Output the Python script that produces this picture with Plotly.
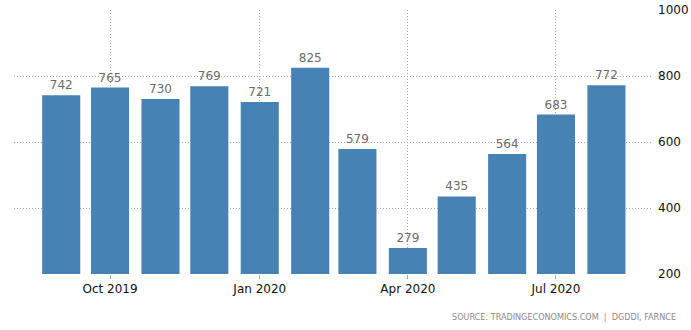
import plotly.graph_objects as go

# Monthly values, Sep 2019 - Aug 2020
months = ["2019-09-01", "2019-10-01", "2019-11-01", "2019-12-01", "2020-01-01",
          "2020-02-01", "2020-03-01", "2020-04-01", "2020-05-01", "2020-06-01",
          "2020-07-01", "2020-08-01"]
values = [742, 765, 730, 769, 721, 825, 579, 279, 435, 564, 683, 772]

tick_dates = ["2019-10-01", "2020-01-01", "2020-04-01", "2020-07-01"]
tick_labels = ["Oct 2019", "Jan 2020", "Apr 2020", "Jul 2020"]
y_ticks = [200, 400, 600, 800, 1000]

DAY_MS = 86400000
FONT = "DejaVu Sans"
GRID = "#a8a8a8"

fig = go.Figure(go.Bar(
    x=months,
    y=values,
    width=[23.4 * DAY_MS] * len(values),
    marker=dict(color="#4682B4", line=dict(width=0)),
    text=[str(v) for v in values],
    textposition="outside",
    textfont=dict(family=FONT, size=12, color="#6b6b6b"),
    cliponaxis=False,
))

fig.update_layout(
    width=691, height=330,
    margin=dict(l=14, r=39, t=10, b=56),
    paper_bgcolor="white",
    plot_bgcolor="white",
    showlegend=False,
    xaxis=dict(
        type="date",
        range=["2019-08-03", "2020-08-29"],
        tickvals=tick_dates,
        ticktext=tick_labels,
        showgrid=True,
        gridcolor=GRID,
        griddash="1px,2px",
        gridwidth=1,
        ticks="outside",
        ticklen=4,
        tickcolor=GRID,
        tickfont=dict(family=FONT, size=12, color="#111111"),
        showline=False,
        zeroline=False,
        automargin=False,
    ),
    yaxis=dict(
        side="right",
        range=[200, 1000],
        tickvals=y_ticks,
        showgrid=True,
        gridcolor=GRID,
        griddash="1px,2px",
        gridwidth=1,
        ticks="",
        ticklabelstandoff=5,
        tickfont=dict(family=FONT, size=12, color="#111111"),
        zeroline=False,
        showline=False,
        automargin=False,
    ),
    annotations=[dict(
        text="SOURCE: TRADINGECONOMICS.COM  |  DGDDI, FARNCE",
        xref="paper", yref="paper",
        x=1.041, y=-0.135,
        xanchor="right", yanchor="top",
        showarrow=False,
        font=dict(family="DejaVu Sans Condensed, DejaVu Sans", size=9, color="#8a8a8a"),
    )],
)

fig.write_html("out.html")
